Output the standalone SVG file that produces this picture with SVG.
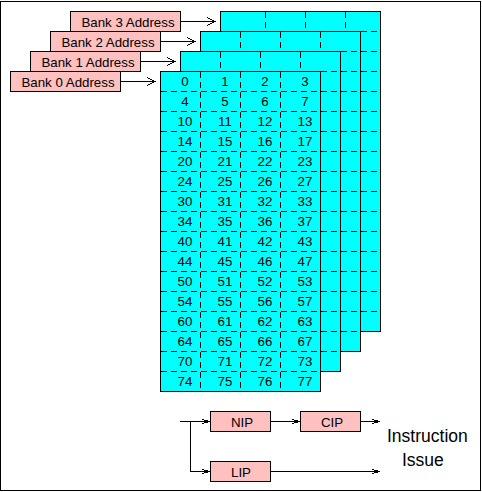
<svg xmlns="http://www.w3.org/2000/svg" width="482" height="492" viewBox="0 0 482 492">
<style>
.b{fill:#0ff;stroke:#000;stroke-width:1}
.p{fill:#ffc0c0;stroke:#000;stroke-width:1}
.d{fill:none;stroke:#000;stroke-width:1;stroke-dasharray:6 4}
.c{fill:none;stroke:#000;stroke-width:1}
text{font-family:"Liberation Sans",Arial,sans-serif;font-size:13.3px;fill:#000;text-anchor:middle}
.l{font-size:17.5px;text-anchor:start}
svg{shape-rendering:crispEdges}
</style>
<defs>
<marker id="a" markerUnits="userSpaceOnUse" markerWidth="10" markerHeight="10" refX="8" refY="5" orient="auto" overflow="visible"><path d="M0 1 L8 5 L0 9" fill="none" stroke="#000" stroke-width="1"/></marker>
<marker id="s" markerUnits="userSpaceOnUse" markerWidth="10" markerHeight="6" refX="9" refY="3" orient="auto" overflow="visible"><path d="M1 1 L9 3 L1 5" fill="none" stroke="#000" stroke-width="1"/></marker>
</defs>
<rect id="frame" x="0.5" y="1.5" width="480" height="489" fill="#fff" stroke="#000"/>
<g id="bank3">
<rect class="b" x="220.5" y="11.5" width="160" height="320"/>
<path class="d" d="M265.5 12V31M305.5 12V31M345.5 12V31M361 31.5H380M361 51.5H380M361 71.5H380M361 91.5H380M361 111.5H380M361 131.5H380M361 151.5H380M361 171.5H380M361 191.5H380M361 211.5H380M361 231.5H380M361 251.5H380M361 271.5H380M361 291.5H380M361 311.5H380"/>
</g>
<g id="bank2">
<rect class="b" x="200.5" y="31.5" width="160" height="320"/>
<path class="d" d="M240.5 32V51M280.5 32V51M320.5 32V51M341 51.5H360M341 71.5H360M341 91.5H360M341 111.5H360M341 131.5H360M341 151.5H360M341 171.5H360M341 191.5H360M341 211.5H360M341 231.5H360M341 251.5H360M341 271.5H360M341 291.5H360M341 311.5H360M341 331.5H360"/>
</g>
<g id="bank1">
<rect class="b" x="180.5" y="51.5" width="160" height="320"/>
<path class="d" d="M220.5 52V71M260.5 52V71M300.5 52V71M321 71.5H340M321 91.5H340M321 111.5H340M321 131.5H340M321 151.5H340M321 171.5H340M321 191.5H340M321 211.5H340M321 231.5H340M321 251.5H340M321 271.5H340M321 291.5H340M321 311.5H340M321 331.5H340M321 351.5H340"/>
</g>
<g id="bank0">
<rect class="b" x="160.5" y="71.5" width="160" height="320"/>
<path class="d" d="M200.5 72V391M240.5 72V391M280.5 72V391M161 91.5H320M161 111.5H320M161 131.5H320M161 151.5H320M161 171.5H320M161 191.5H320M161 211.5H320M161 231.5H320M161 251.5H320M161 271.5H320M161 291.5H320M161 311.5H320M161 331.5H320M161 351.5H320M161 371.5H320"/>
<g id="cells">
<text x="185" y="86">0</text><text x="225" y="86">1</text><text x="265" y="86">2</text><text x="305" y="86">3</text>
<text x="185" y="106">4</text><text x="225" y="106">5</text><text x="265" y="106">6</text><text x="305" y="106">7</text>
<text x="185" y="126">10</text><text x="225" y="126">11</text><text x="265" y="126">12</text><text x="305" y="126">13</text>
<text x="185" y="146">14</text><text x="225" y="146">15</text><text x="265" y="146">16</text><text x="305" y="146">17</text>
<text x="185" y="166">20</text><text x="225" y="166">21</text><text x="265" y="166">22</text><text x="305" y="166">23</text>
<text x="185" y="186">24</text><text x="225" y="186">25</text><text x="265" y="186">26</text><text x="305" y="186">27</text>
<text x="185" y="206">30</text><text x="225" y="206">31</text><text x="265" y="206">32</text><text x="305" y="206">33</text>
<text x="185" y="226">34</text><text x="225" y="226">35</text><text x="265" y="226">36</text><text x="305" y="226">37</text>
<text x="185" y="246">40</text><text x="225" y="246">41</text><text x="265" y="246">42</text><text x="305" y="246">43</text>
<text x="185" y="266">44</text><text x="225" y="266">45</text><text x="265" y="266">46</text><text x="305" y="266">47</text>
<text x="185" y="286">50</text><text x="225" y="286">51</text><text x="265" y="286">52</text><text x="305" y="286">53</text>
<text x="185" y="306">54</text><text x="225" y="306">55</text><text x="265" y="306">56</text><text x="305" y="306">57</text>
<text x="185" y="326">60</text><text x="225" y="326">61</text><text x="265" y="326">62</text><text x="305" y="326">63</text>
<text x="185" y="346">64</text><text x="225" y="346">65</text><text x="265" y="346">66</text><text x="305" y="346">67</text>
<text x="185" y="366">70</text><text x="225" y="366">71</text><text x="265" y="366">72</text><text x="305" y="366">73</text>
<text x="185" y="386">74</text><text x="225" y="386">75</text><text x="265" y="386">76</text><text x="305" y="386">77</text>
</g>
</g>
<g id="connectors">
<path class="c" d="M180.5 21.5H215" marker-end="url(#a)"/>
<path class="c" d="M160.5 41.5H195" marker-end="url(#a)"/>
<path class="c" d="M140.5 61.5H175" marker-end="url(#a)"/>
<path class="c" d="M120.5 81.5H155" marker-end="url(#a)"/>
<path class="c" d="M180 421.5H210" marker-end="url(#s)"/>
<path class="c" d="M190.5 421.5V471.5H210" marker-end="url(#s)"/>
<path class="c" d="M270.5 421.5H300" marker-end="url(#s)"/>
<path class="c" d="M360.5 421.5H380" marker-end="url(#s)"/>
<path class="c" d="M270.5 471.5H380" marker-end="url(#s)"/>
</g>
<g id="addr3"><rect class="p" x="70.5" y="11.5" width="110" height="20"/><text x="128" y="26.5">Bank 3 Address</text></g>
<g id="addr2"><rect class="p" x="50.5" y="31.5" width="110" height="20"/><text x="108" y="46.5">Bank 2 Address</text></g>
<g id="addr1"><rect class="p" x="30.5" y="51.5" width="110" height="20"/><text x="88" y="66.5">Bank 1 Address</text></g>
<g id="addr0"><rect class="p" x="10.5" y="71.5" width="110" height="20"/><text x="68" y="86.5">Bank 0 Address</text></g>
<g id="nip"><rect class="p" x="210.5" y="411.5" width="60" height="20"/><text x="242" y="426.5">NIP</text></g>
<g id="cip"><rect class="p" x="300.5" y="411.5" width="60" height="20"/><text x="332" y="426.5">CIP</text></g>
<g id="lip"><rect class="p" x="210.5" y="461.5" width="60" height="20"/><text x="241" y="476.5">LIP</text></g>
<g id="issue"><text class="l" x="387" y="441.5">Instruction</text><text class="l" x="402" y="466">Issue</text></g>
</svg>
